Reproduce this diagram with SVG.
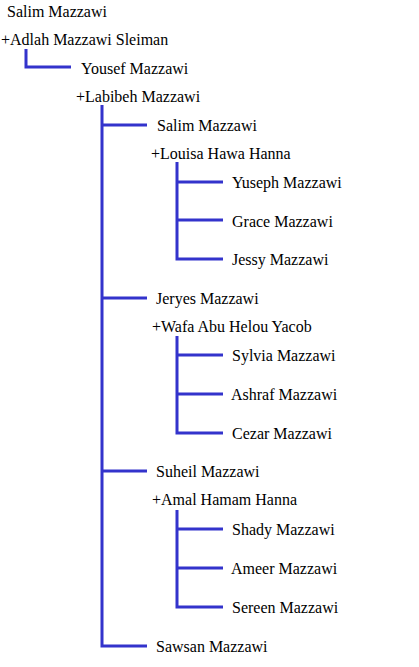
<svg xmlns="http://www.w3.org/2000/svg" width="419" height="667" viewBox="0 0 419 667">
<style>
text{font-family:"Liberation Serif","Times New Roman",serif;font-size:16px;fill:#000}
.c path{fill:none;stroke:#3333cc;stroke-width:3}
</style>
<rect width="419" height="667" fill="#fff"/>
<g class="c" id="connectors">
<path d="M26,49V67H71"/>
<path d="M102,105V646H147"/>
<path d="M101,125H147"/>
<path d="M101,298H147"/>
<path d="M101,471H147"/>
<path d="M177,162V259H223M177,182H223M177,220H223"/>
<path d="M177,336V433H223M177,355H223M177,394H223"/>
<path d="M177,510V607H223M177,529H223M177,568H223"/>
</g>
<g id="n1"><text x="7" y="17">Salim Mazzawi</text></g>
<g id="n2"><text x="1" y="45">+Adlah Mazzawi Sleiman</text></g>
<g id="n3"><text x="81" y="74">Yousef Mazzawi</text></g>
<g id="n4"><text x="76" y="102">+Labibeh Mazzawi</text></g>
<g id="n5"><text x="157" y="131">Salim Mazzawi</text></g>
<g id="n6"><text x="151" y="159">+Louisa Hawa Hanna</text></g>
<g id="n7"><text x="232" y="188">Yuseph Mazzawi</text></g>
<g id="n8"><text x="232" y="227">Grace Mazzawi</text></g>
<g id="n9"><text x="232" y="265">Jessy Mazzawi</text></g>
<g id="n10"><text x="156" y="304">Jeryes Mazzawi</text></g>
<g id="n11"><text x="152" y="332">+Wafa Abu Helou Yacob</text></g>
<g id="n12"><text x="232" y="361">Sylvia Mazzawi</text></g>
<g id="n13"><text x="231" y="400">Ashraf Mazzawi</text></g>
<g id="n14"><text x="232" y="439">Cezar Mazzawi</text></g>
<g id="n15"><text x="156" y="477">Suheil Mazzawi</text></g>
<g id="n16"><text x="152" y="505">+Amal Hamam Hanna</text></g>
<g id="n17"><text x="232" y="535">Shady Mazzawi</text></g>
<g id="n18"><text x="231" y="574">Ameer Mazzawi</text></g>
<g id="n19"><text x="232" y="613">Sereen Mazzawi</text></g>
<g id="n20"><text x="156" y="652">Sawsan Mazzawi</text></g>
</svg>
